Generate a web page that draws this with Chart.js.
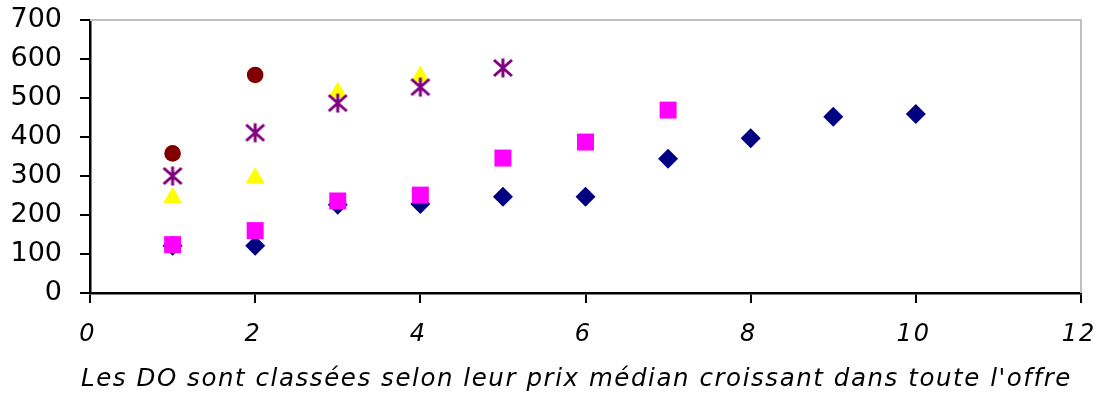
<!DOCTYPE html>
<html>
<head>
<meta charset="utf-8">
<script src="https://cdn.jsdelivr.net/npm/chart.js@4/dist/chart.umd.min.js"></script>
<style>
  html, body { margin: 0; padding: 0; background: #fff; }
  #wrap { width: 1102px; height: 398px; position: relative; }
</style>
</head>
<body>
<div id="wrap"><canvas id="c" width="1102" height="398"></canvas></div>
<script>
// Rank of each DO (x) and median price values (y) per series
const ranks = [1, 2, 3, 4, 5, 6, 7, 8, 9, 10];
const navySeries    = [121, 121, 226, 228, 247, 247, 344, 397, 452, 459];
const magentaSeries = [124, 160, 236, 251, 346, 387, 469];
const yellowSeries  = [244, 295, 514, 555];
const purpleSeries  = [300, 411, 487, 528, 577];
const redSeries     = [358, 559];

const xTicks = [0, 2, 4, 6, 8, 10, 12];
const yTicks = [0, 100, 200, 300, 400, 500, 600, 700];
const xTitle = "Les DO sont classées selon leur prix médian croissant dans toute l'offre";

function points(values) {
  return values.map((v, i) => ({ x: ranks[i], y: v }));
}

// Six-armed asterisk marker (X plus vertical bar)
function asterisk(color) {
  const s = 24, c = document.createElement('canvas');
  c.width = s; c.height = s;
  const g = c.getContext('2d');
  g.strokeStyle = color; g.lineWidth = 3; g.lineCap = 'butt';
  const m = s / 2;
  g.beginPath();
  g.moveTo(m, m - 9.5); g.lineTo(m, m + 9.5);
  g.moveTo(m - 9, m - 8); g.lineTo(m + 9, m + 8);
  g.moveTo(m + 9, m - 8); g.lineTo(m - 9, m + 8);
  g.stroke();
  return c;
}

// Keep the plot area where the layout padding puts it
function noLabelPadding(scale) {
  scale.paddingTop = 0;
  scale.paddingBottom = 0;
  scale.paddingLeft = 0;
  scale.paddingRight = 0;
}

// Run a scale drawing method with wider letter spacing and a horizontal shift
function spaced(scale, method, spacing, dx) {
  const base = scale[method];
  scale[method] = function (...args) {
    const c = this.ctx;
    c.save();
    c.letterSpacing = spacing;
    c.translate(dx, 0);
    base.apply(this, args);
    c.restore();
  };
}

const framePlugin = {
  id: 'frame',
  afterLayout(chart) {
    const sx = chart.scales.x;
    if (!sx.__spaced) {
      spaced(sx, 'drawLabels', '2px', -2);
      spaced(sx, 'drawTitle', '1.6px', -9);
      sx.__spaced = true;
    }
  },
  // light grey frame on the top and right of the plot area
  beforeDatasetsDraw(chart) {
    const { ctx, chartArea: a } = chart;
    ctx.save();
    ctx.strokeStyle = '#c0c0c0';
    ctx.lineWidth = 2;
    ctx.beginPath();
    ctx.moveTo(a.left, a.top);
    ctx.lineTo(a.right, a.top);
    ctx.lineTo(a.right, a.bottom);
    ctx.stroke();
    ctx.restore();
  }
};

const ds = (label, values, color, style, radius, order) => ({
  label,
  data: points(values),
  backgroundColor: color,
  borderColor: color,
  borderWidth: 0,
  pointStyle: style,
  pointRadius: radius,
  pointHoverRadius: radius,
  showLine: false,
  order
});

new Chart(document.getElementById('c'), {
  type: 'scatter',
  data: {
    datasets: [
      ds('s1', navySeries, '#000080', 'rectRot', 10, 5),
      ds('s2', magentaSeries, '#ff00ff', 'rect', 12, 4),
      ds('s3', yellowSeries, '#ffff00', 'triangle', 11, 3),
      ds('s4', purpleSeries, '#800080', asterisk('#800080'), 10, 2),
      ds('s5', redSeries, '#800000', 'circle', 8.3, 1)
    ]
  },
  options: {
    responsive: false,
    animation: false,
    devicePixelRatio: 1,
    layout: { padding: { top: 20, right: 21, left: 0, bottom: 0 } },
    plugins: { legend: { display: false }, tooltip: { enabled: false } },
    scales: {
      x: {
        type: 'linear',
        min: 0, max: 12,
        afterBuildTicks(scale) { scale.ticks = xTicks.map(v => ({ value: v })); },
        afterFit(scale) { scale.height = 105; noLabelPadding(scale); },
        border: { color: '#000', width: 2.5 },
        grid: { drawOnChartArea: false, color: '#000', lineWidth: 2, tickLength: 10 },
        ticks: {
          color: '#000',
          padding: 17,
          maxRotation: 0,
          font: { family: 'DejaVu Sans', size: 24, style: 'italic' }
        },
        title: {
          display: true,
          text: xTitle,
          color: '#000',
          padding: { top: 14, bottom: 4 },
          font: { family: 'DejaVu Sans', size: 25, style: 'italic' }
        }
      },
      y: {
        type: 'linear',
        min: 0, max: 700,
        afterBuildTicks(scale) { scale.ticks = yTicks.map(v => ({ value: v })); },
        afterFit(scale) { scale.width = 90; noLabelPadding(scale); },
        border: { color: '#000', width: 2.5 },
        grid: { drawOnChartArea: false, color: '#000', lineWidth: 2, tickLength: 10 },
        ticks: {
          color: '#000',
          padding: 18,
          font: { family: 'DejaVu Sans', size: 27 }
        }
      }
    }
  },
  plugins: [framePlugin]
});
</script>
</body>
</html>
